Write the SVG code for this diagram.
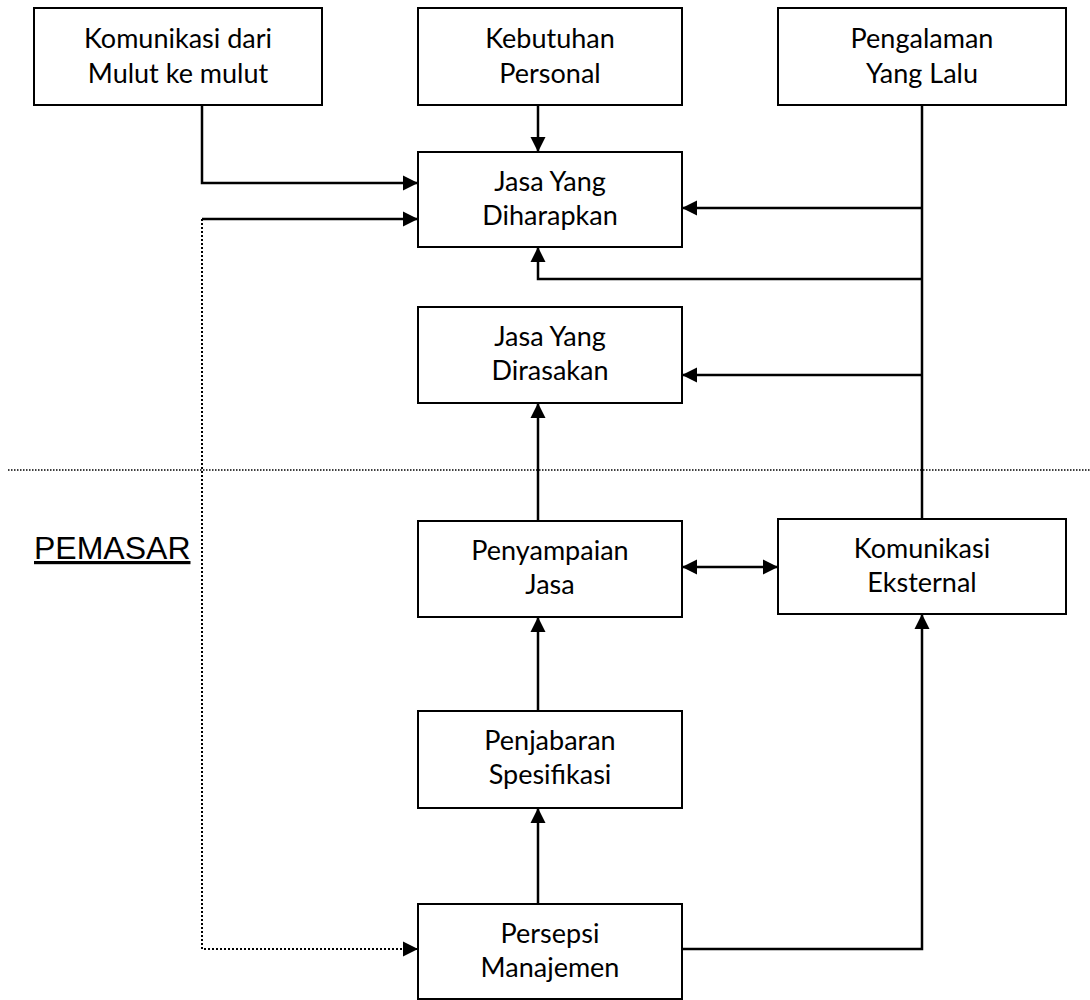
<svg xmlns="http://www.w3.org/2000/svg" width="1090" height="1000" viewBox="0 0 1090 1000">
<style>
.box{fill:#fff;stroke:#000;stroke-width:2}
.t{font-family:Lato,"Open Sans",sans-serif;font-size:27px;fill:#000;text-anchor:middle}
.c{fill:none;stroke:#000;stroke-width:2.5}
.d{fill:none;stroke:#000;stroke-width:2;stroke-dasharray:2 2}
.dl{fill:none;stroke:#000;stroke-width:1.5;stroke-dasharray:1.5 1.5}
</style>
<defs>
<marker id="ah" markerUnits="userSpaceOnUse" markerWidth="16" markerHeight="16" refX="15" refY="8" orient="auto-start-reverse">
<path d="M0,0.5 L15,8 L0,15.5 z" fill="#000"/>
</marker>
</defs>
<rect width="1090" height="1000" fill="#fff"/>
<g id="connectors">
<line class="dl" x1="8" y1="470" x2="1090" y2="470"/>
<path class="c" d="M202,105 V183 H418" marker-end="url(#ah)"/>
<path class="c" d="M538,105 V152" marker-end="url(#ah)"/>
<path class="c" d="M922,105 V519"/>
<path class="c" d="M922,208 H682" marker-end="url(#ah)"/>
<path class="c" d="M922,279 H538 V247" marker-end="url(#ah)"/>
<path class="c" d="M922,375 H682" marker-end="url(#ah)"/>
<path class="c" d="M202,219 H418" marker-end="url(#ah)"/>
<path class="d" d="M202,219 V949 H418" marker-end="url(#ah)"/>
<path class="c" d="M538,521 V403" marker-end="url(#ah)"/>
<path class="c" d="M538,711 V617" marker-end="url(#ah)"/>
<path class="c" d="M538,904 V808" marker-end="url(#ah)"/>
<path class="c" d="M682,567 H778" marker-start="url(#ah)" marker-end="url(#ah)"/>
<path class="c" d="M682,949 H922 V614" marker-end="url(#ah)"/>
</g>
<g id="n1"><rect class="box" x="34" y="8" width="288" height="97"/><text class="t" x="178" y="48">Komunikasi dari</text><text class="t" x="178" y="83">Mulut ke mulut</text></g>
<g id="n2"><rect class="box" x="418" y="8" width="264" height="97"/><text class="t" x="550" y="48">Kebutuhan</text><text class="t" x="550" y="83">Personal</text></g>
<g id="n3"><rect class="box" x="778" y="8" width="288" height="97"/><text class="t" x="922" y="48">Pengalaman</text><text class="t" x="922" y="83">Yang Lalu</text></g>
<g id="n4"><rect class="box" x="418" y="152" width="264" height="95"/><text class="t" x="550" y="191">Jasa Yang</text><text class="t" x="550" y="225">Diharapkan</text></g>
<g id="n5"><rect class="box" x="418" y="307" width="264" height="96"/><text class="t" x="550" y="346">Jasa Yang</text><text class="t" x="550" y="380">Dirasakan</text></g>
<g id="n6"><rect class="box" x="418" y="521" width="264" height="96"/><text class="t" x="550" y="560">Penyampaian</text><text class="t" x="550" y="594">Jasa</text></g>
<g id="n7"><rect class="box" x="778" y="519" width="288" height="95"/><text class="t" x="922" y="558">Komunikasi</text><text class="t" x="922" y="592">Eksternal</text></g>
<g id="n8"><rect class="box" x="418" y="711" width="264" height="97"/><text class="t" x="550" y="750">Penjabaran</text><text class="t" x="550" y="784">Spesifikasi</text></g>
<g id="n9"><rect class="box" x="418" y="904" width="264" height="95"/><text class="t" x="550" y="943">Persepsi</text><text class="t" x="550" y="977">Manajemen</text></g>
<g id="label"><text x="34" y="559" font-family="'Liberation Sans',Arial,sans-serif" font-size="32" text-decoration="underline">PEMASAR</text></g>
</svg>
